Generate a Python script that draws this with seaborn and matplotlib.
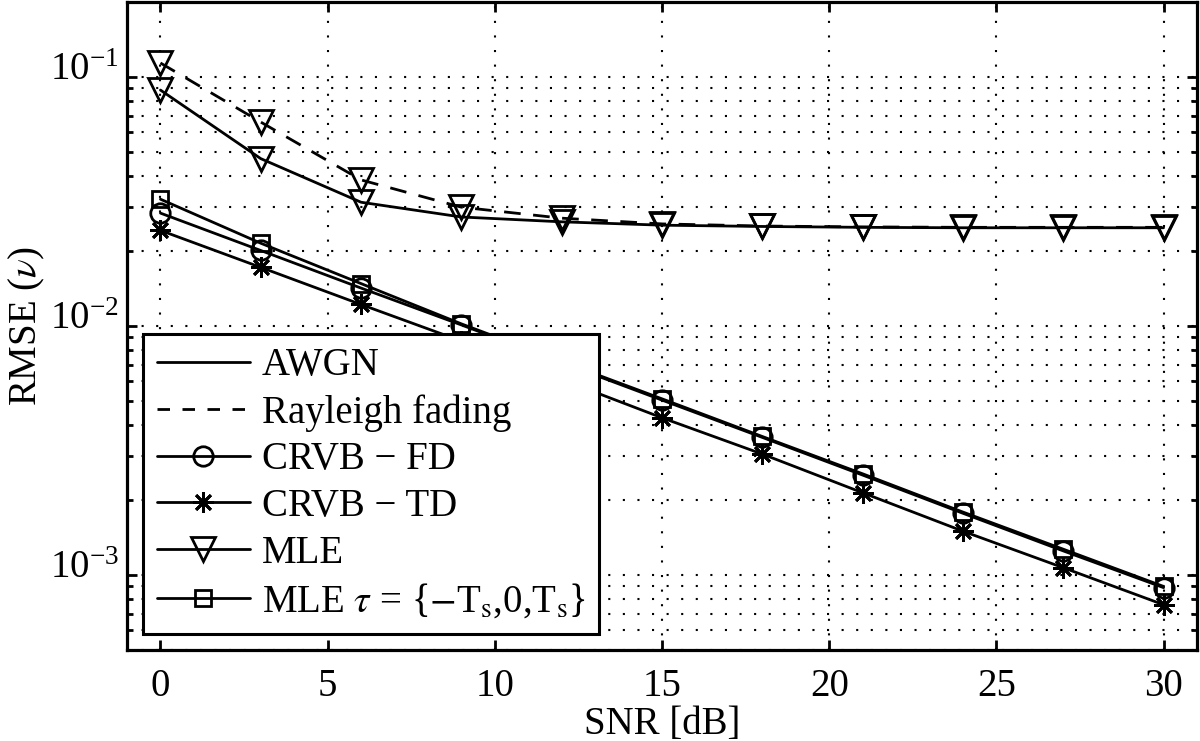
import numpy as np
import matplotlib
matplotlib.use("Agg")
import matplotlib.pyplot as plt
from matplotlib.lines import Line2D
from matplotlib.ticker import LogLocator, NullLocator, NullFormatter
from matplotlib.transforms import ScaledTranslation
import seaborn as sns

sns.set_style("ticks")
plt.rcParams['font.family'] = ['Liberation Serif', 'DejaVu Serif']
plt.rcParams['mathtext.fontset'] = 'stix'
for key in ['text.color', 'axes.labelcolor', 'xtick.color', 'ytick.color', 'axes.edgecolor']:
    plt.rcParams[key] = 'k'

# values (SNR in dB, RMSE)
snr = [0, 3, 6, 9, 12, 15, 18, 21, 24, 27, 30]
crvb_fd = [0.0284, 0.0201, 0.0142, 0.0101, 0.00713, 0.00504, 0.00357, 0.00252, 0.00177, 0.00125, 0.00089]
crvb_td = [0.0242, 0.0172, 0.0122, 0.0087, 0.0061, 0.00428, 0.00306, 0.00214, 0.0015, 0.00107, 0.00076]
mle_tau = [0.0323, 0.0215, 0.0148, 0.0102, 0.0072, 0.0051, 0.0036, 0.00255, 0.00179, 0.00127, 0.0009]
mle_awgn = [0.0886, 0.047, 0.0314, 0.0274, 0.0262, 0.0254, 0.0251, 0.0249, 0.0248, 0.0248, 0.0248]
mle_ray = [0.1138, 0.0659, 0.0386, 0.0300, 0.0271, 0.0257, 0.0252, 0.0250, 0.0249, 0.0249, 0.0249]

LW = 2.0
FS = 28
dash = (0, (6, 4.5))
asterisk = (8, 2, 0)

fig = plt.figure(figsize=(12, 7.41), dpi=100)
ax = fig.add_axes([127/1200, 91/741, 1070/1200, 648/741])

common = dict(ax=ax, color='k', linewidth=LW, markerfacecolor='none',
              markeredgecolor='k', markeredgewidth=LW, zorder=3)
sns.lineplot(x=snr, y=mle_ray, marker='v', markersize=17, linestyle=dash, **common)
sns.lineplot(x=snr, y=mle_awgn, marker='v', markersize=17, **common)
sns.lineplot(x=snr, y=mle_tau, marker='s', markersize=12, **common)
sns.lineplot(x=snr, y=crvb_fd, marker='o', markersize=14, **common)
sns.lineplot(x=snr, y=crvb_td, marker=asterisk, markersize=15, **common)

ax.set_yscale('log')
ax.set_xlim(-1, 31)
ax.set_ylim(5e-4, 0.2)
ax.set_xticks([0, 5, 10, 15, 20, 25, 30])
ax.xaxis.set_minor_locator(NullLocator())
ax.yaxis.set_major_locator(LogLocator(base=10, numticks=10))
ax.yaxis.set_minor_locator(LogLocator(base=10, subs=np.arange(2, 10), numticks=20))
ax.yaxis.set_minor_formatter(NullFormatter())

gridkw = dict(color='k', linestyle=(0, (1, 6)), linewidth=1.5)
ax.grid(which='major', axis='both', **gridkw)
ax.grid(which='minor', axis='y', **gridkw)
ax.set_axisbelow(True)

for s in ax.spines.values():
    s.set_linewidth(2.3)
    s.set_visible(True)
ax.tick_params(which='both', direction='in', top=True, right=True, width=2, labelsize=FS)
ax.tick_params(which='major', length=7.5)
ax.tick_params(which='minor', length=4)
ax.tick_params(axis='x', pad=13)
ax.tick_params(axis='y', pad=6)

ax.set_xlabel("SNR [dB]", fontsize=FS, labelpad=1)
ax.set_ylabel(r"RMSE ($\nu$)", fontsize=FS, labelpad=2)

handles = [
    Line2D([], [], color='k', linewidth=LW),
    Line2D([], [], color='k', linewidth=LW, linestyle=(0, (4.5, 4.5))),
    Line2D([], [], color='k', linewidth=LW, marker='o', markersize=14, markerfacecolor='none', markeredgewidth=LW),
    Line2D([], [], color='k', linewidth=LW, marker=asterisk, markersize=15, markeredgewidth=LW),
    Line2D([], [], color='k', linewidth=LW, marker='v', markersize=17, markerfacecolor='none', markeredgewidth=LW),
    Line2D([], [], color='k', linewidth=LW, marker='s', markersize=12, markerfacecolor='none', markeredgewidth=LW),
]
labels = ["AWGN", "Rayleigh fading", "CRVB \u2212 FD", "CRVB \u2212 TD", "MLE",
          r"MLE $\tau$ = {$-$T$_\mathrm{s}$,0,T$_\mathrm{s}$}"]
leg = ax.legend(handles, labels, loc='lower left', bbox_to_anchor=(0.015, 0.025),
                borderaxespad=0, fontsize=FS, numpoints=1, handlelength=2.4,
                handletextpad=0.3, labelspacing=0.25, borderpad=0.35,
                fancybox=False, framealpha=1, edgecolor='k')
leg.get_frame().set_linewidth(2.2)
leg.set_zorder(5)

# MATLAB puts the "10" of the log labels a bit above the tick
fig.canvas.draw()
shift = ScaledTranslation(0, 8/72, fig.dpi_scale_trans)
for tick in ax.yaxis.get_major_ticks():
    tick.label1.set_transform(tick.label1.get_transform() + shift)

fig.savefig("out.png", dpi=100)
